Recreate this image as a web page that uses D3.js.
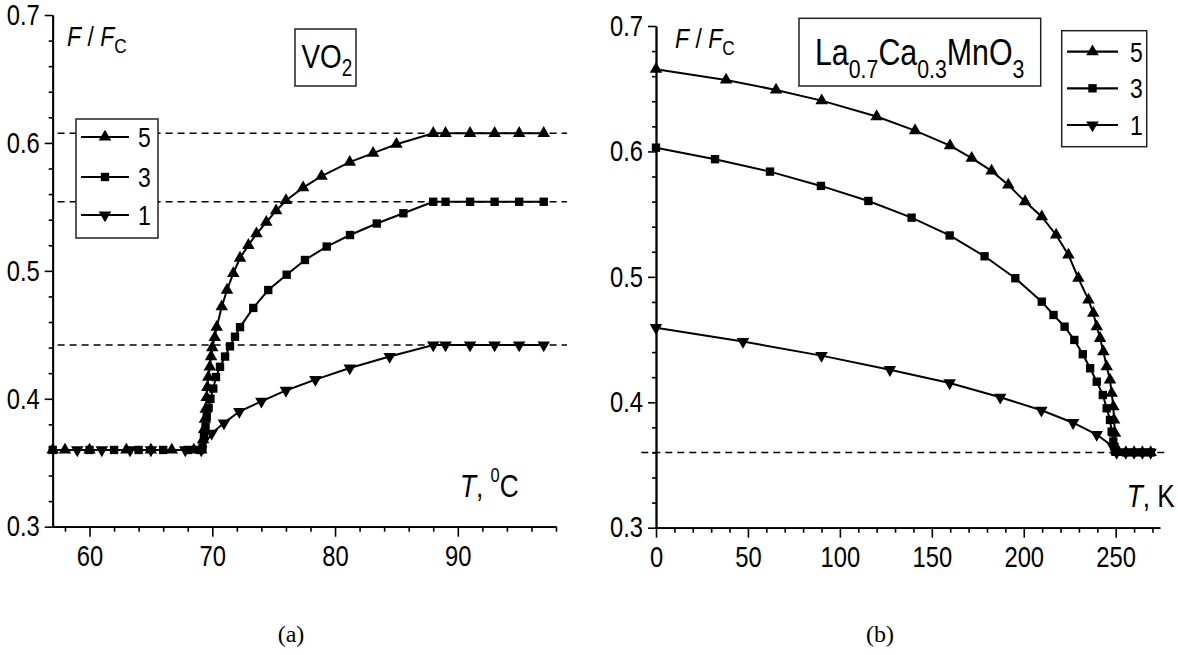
<!DOCTYPE html>
<html><head><meta charset="utf-8">
<script src="https://cdn.jsdelivr.net/npm/d3@7"></script>
<style>
body{margin:0;background:#fff;}
svg{display:block;}
text{font-family:"Liberation Sans",Arial,sans-serif;fill:#000;}
text.cap{font-family:"Liberation Serif","DejaVu Serif",serif;}
</style></head><body>
<svg id="c" width="1178" height="655"></svg>
<script>
// ---------- data: panel (a) VO2 ----------
const vo2Series5 = [[57,0.36],[58,0.36],[60,0.36],[63,0.36],[65,0.36],[66.7,0.36],[68.5,0.36],[69.1,0.36],[69.25,0.368],[69.33,0.376],[69.4,0.384],[69.47,0.392],[69.54,0.401],[69.6,0.409],[69.68,0.417],[69.8,0.425],[69.9,0.433],[70.0,0.44],[70.2,0.448],[70.36,0.456],[70.77,0.472],[71.2,0.485],[71.71,0.498],[72.26,0.51],[72.94,0.52],[73.6,0.529],[74.4,0.538],[75.2,0.547],[76.0,0.555],[77.4,0.565],[78.9,0.574],[81.2,0.585],[83.1,0.592],[85.0,0.599],[88,0.6075],[89,0.6075],[91,0.6075],[93,0.6075],[95,0.6075],[97,0.6075]];
const vo2Series3 = [[57,0.36],[60,0.36],[62,0.36],[64,0.36],[66,0.36],[68,0.36],[69,0.36],[69.2,0.362],[69.32,0.370],[69.45,0.378],[69.55,0.386],[69.7,0.393],[69.85,0.400],[70.08,0.408],[70.3,0.417],[70.63,0.425],[71.04,0.433],[71.44,0.441],[71.85,0.4485],[72.26,0.456],[73.34,0.471],[74.56,0.485],[76.06,0.497],[77.55,0.5085],[79.32,0.519],[81.22,0.528],[83.4,0.537],[85.57,0.545],[88,0.554],[89,0.554],[91,0.554],[93,0.554],[95,0.554],[97,0.554]];
const vo2Series1 = [[59,0.36],[61,0.36],[63.3,0.36],[65,0.36],[67.8,0.36],[69.1,0.36],[69.95,0.373],[70.95,0.381],[72.2,0.39],[74.0,0.398],[76.0,0.4065],[78.4,0.415],[81.2,0.424],[84.45,0.433],[88,0.442],[89,0.442],[91,0.442],[93,0.442],[95,0.442],[97,0.442]];
const vo2Limits = [0.6075, 0.554, 0.442];
const vo2DashX = [57.4, 98.9];
const vo2XDomain = [57, 98];
const vo2XMajor = [60, 70, 80, 90];
const vo2XMinor = [58,62,64,66,68,72,74,76,78,82,84,86,88,92,94,96,98];

// ---------- data: panel (b) La0.7Ca0.3MnO3 ----------
const lcmSeries5 = [[0,0.6656],[38.1,0.657],[65.3,0.649],[90.1,0.6405],[120,0.6278],[140.9,0.6166],[159.9,0.6046],[171.7,0.5946],[182.5,0.5845],[191.6,0.5733],[200.7,0.56],[209.8,0.548],[217.6,0.5334],[224.3,0.5175],[229.7,0.4989],[235.2,0.4816],[237.8,0.471],[239.7,0.4603],[241.5,0.451],[243.3,0.4403],[245.1,0.4284],[246.9,0.4178],[247.8,0.4072],[248.7,0.3965],[249.1,0.3859],[249.6,0.3753],[250,0.3646],[251,0.36],[255.5,0.36],[260,0.36],[264.5,0.36],[269,0.36]];
const lcmSeries3 = [[0,0.603],[32.1,0.5938],[62,0.5839],[89.7,0.5725],[115.5,0.5605],[139,0.5472],[159.7,0.533],[178.7,0.5164],[195.4,0.4989],[209.8,0.4802],[216.2,0.4696],[222.2,0.4603],[227.5,0.4497],[232.1,0.4383],[236.1,0.4271],[239.7,0.4164],[243,0.4058],[245.1,0.3952],[246.9,0.3859],[247.8,0.3766],[248.7,0.3686],[249.6,0.361],[255.5,0.36],[260,0.36],[264.5,0.36],[269,0.36]];
const lcmSeries1 = [[0,0.4595],[47.3,0.4484],[90,0.4372],[127.2,0.426],[159.7,0.4154],[187.2,0.404],[209.6,0.3936],[226.8,0.3837],[239.7,0.3743],[248.5,0.3646],[250.5,0.36],[255.5,0.36],[260,0.36],[264.5,0.36],[269,0.36]];
const lcmLimits = [0.36];
const lcmDashX = [-8, 276.5];
const lcmXDomain = [0, 274];
const lcmXMajor = [0, 50, 100, 150, 200, 250];
const lcmXMinor = [10,20,30,40,60,70,80,90,110,120,130,140,160,170,180,190,210,220,230,240,260,270];

const yDomain = [0.3, 0.7];
const yMajor = [0.3, 0.4, 0.5, 0.6, 0.7];
const yMinor = [0.32,0.34,0.36,0.38,0.42,0.44,0.46,0.48,0.52,0.54,0.56,0.58,0.62,0.64,0.66,0.68];
const legendLabels = ["5", "3", "1"];

// ---------- drawing ----------
const svg = d3.select("#c");
const K = 0.82; // horizontal squeeze to imitate a narrow sans face

function squeeze(sel) {
  sel.each(function () {
    const t = d3.select(this);
    const x = +t.attr("x") || 0, y = +t.attr("y") || 0;
    t.attr("x", 0).attr("y", 0).attr("transform", `translate(${x},${y}) scale(${K},1)`);
  });
}

const symTri = d3.symbol().type(d3.symbolTriangle).size(68)();
const symSq = d3.symbol().type(d3.symbolSquare).size(70)();
const markers = [
  {path: symTri, rot: 0},
  {path: symSq, rot: 0},
  {path: symTri, rot: 180}
];

function panel(cfg) {
  const x = d3.scaleLinear().domain(cfg.xDomain).range(cfg.xRange);
  const y = d3.scaleLinear().domain(yDomain).range(cfg.yRange);
  const g = svg.append("g");

  // dashed limit lines
  g.selectAll("line.lim").data(cfg.limits).join("line")
    .attr("x1", x(cfg.dashX[0])).attr("x2", x(cfg.dashX[1]))
    .attr("y1", d => y(d)).attr("y2", d => y(d))
    .attr("stroke", "#000").attr("stroke-width", 1.5).attr("stroke-dasharray", "7,5");

  // axes
  const axStyle = sel => {
    sel.selectAll("path.domain").attr("stroke", "#000").attr("stroke-width", 1.8);
    sel.selectAll(".tick line").attr("stroke", "#000").attr("stroke-width", 1.6);
    sel.selectAll(".tick text").style("font-size", "29px").attr("fill", "#000").call(squeeze);
  };
  g.append("g").attr("transform", `translate(${cfg.xRange[0]},0)`)
    .call(d3.axisLeft(y).tickValues(yMinor).tickSize(4).tickSizeOuter(0).tickFormat(""))
    .call(axStyle);
  g.append("g").attr("transform", `translate(${cfg.xRange[0]},0)`)
    .call(d3.axisLeft(y).tickValues(yMajor).tickSize(8).tickSizeOuter(0).tickPadding(5).tickFormat(d3.format(".1f")))
    .call(axStyle);
  g.append("g").attr("transform", `translate(0,${cfg.yRange[0]})`)
    .call(d3.axisBottom(x).tickValues(cfg.xMinor).tickSize(5).tickSizeOuter(0).tickFormat(""))
    .call(axStyle);
  g.append("g").attr("transform", `translate(0,${cfg.yRange[0]})`)
    .call(d3.axisBottom(x).tickValues(cfg.xMajor).tickSize(10).tickSizeOuter(0).tickPadding(9).tickFormat(d3.format("d")))
    .call(axStyle);

  // series
  const line = d3.line().x(d => x(d[0])).y(d => y(d[1]));
  cfg.series.forEach((s, i) => {
    g.append("path").datum(s).attr("d", line)
      .attr("fill", "none").attr("stroke", "#000").attr("stroke-width", 2);
    g.selectAll(null).data(s).join("path")
      .attr("d", markers[i].path)
      .attr("transform", d => `translate(${x(d[0])},${y(d[1])}) rotate(${markers[i].rot})`)
      .attr("fill", "#000");
  });

  // legend
  const L = cfg.legend;
  g.append("rect").attr("x", L.x).attr("y", L.y).attr("width", L.w).attr("height", L.h)
    .attr("fill", "#fff").attr("stroke", "#222").attr("stroke-width", 1.5);
  legendLabels.forEach((lab, i) => {
    const ry = L.rows[i];
    g.append("line").attr("x1", L.lx1).attr("x2", L.lx2).attr("y1", ry).attr("y2", ry)
      .attr("stroke", "#000").attr("stroke-width", 2.2);
    g.append("path").attr("d", markers[i].path)
      .attr("transform", `translate(${(L.lx1 + L.lx2) / 2},${ry}) rotate(${markers[i].rot})`)
      .attr("fill", "#000");
    g.append("text").attr("x", L.tx).attr("y", ry + 10).style("font-size", "28px").text(lab).call(squeeze);
  });
  return g;
}

panel({
  xDomain: vo2XDomain, xRange: [52.7, 556], yRange: [526.7, 15],
  xMajor: vo2XMajor, xMinor: vo2XMinor,
  series: [vo2Series5, vo2Series3, vo2Series1],
  limits: vo2Limits, dashX: vo2DashX,
  legend: {x: 76, y: 119, w: 82, h: 119, lx1: 81, lx2: 129, tx: 138, rows: [137, 177, 215]}
});
panel({
  xDomain: lcmXDomain, xRange: [656, 656 + 274 * 1.8388], yRange: [527.7, 26],
  xMajor: lcmXMajor, xMinor: lcmXMinor,
  series: [lcmSeries5, lcmSeries3, lcmSeries1],
  limits: lcmLimits, dashX: lcmDashX,
  legend: {x: 1061.7, y: 30.7, w: 85, h: 116, lx1: 1067, lx2: 1118, tx: 1130, rows: [51.7, 88.3, 125]}
});

// y-axis titles F / F_C
function fLabel(x0, y0) {
  const t = svg.append("text").attr("x", x0).attr("y", y0).style("font-size", "28px");
  t.append("tspan").style("font-style", "italic").text("F");
  t.append("tspan").text(" / ");
  t.append("tspan").style("font-style", "italic").text("F");
  t.append("tspan").attr("dy", 7).style("font-size", "21px").text("C");
  t.call(squeeze);
}
fLabel(67, 46);
fLabel(675, 48);

// x-axis titles
const tA = svg.append("text").attr("x", 460).attr("y", 497).style("font-size", "32px");
tA.append("tspan").style("font-style", "italic").text("T");
tA.append("tspan").text(", ");
tA.append("tspan").attr("dy", -15).style("font-size", "20px").text("0");
tA.append("tspan").attr("dy", 15).text("C");
tA.call(squeeze);
const tB = svg.append("text").attr("x", 1126.7).attr("y", 507).style("font-size", "32px");
tB.append("tspan").style("font-style", "italic").text("T");
tB.append("tspan").text(", K");
tB.call(squeeze);

// material boxes
svg.append("rect").attr("x", 295).attr("y", 29).attr("width", 61).attr("height", 57)
  .attr("fill", "#fff").attr("stroke", "#222").attr("stroke-width", 1.5);
const v = svg.append("text").attr("x", 301.5).attr("y", 68.3).style("font-size", "34px");
v.append("tspan").text("VO");
v.append("tspan").attr("dy", 8).style("font-size", "23px").text("2");
v.call(squeeze);

svg.append("rect").attr("x", 799).attr("y", 18.3).attr("width", 241.7).attr("height", 67.7)
  .attr("fill", "#fff").attr("stroke", "#222").attr("stroke-width", 1.5);
const m = svg.append("text").attr("x", 815).attr("y", 65).style("font-size", "37px");
m.append("tspan").text("La");
m.append("tspan").attr("dy", 13).style("font-size", "26px").text("0.7");
m.append("tspan").attr("dy", -13).text("Ca");
m.append("tspan").attr("dy", 13).style("font-size", "26px").text("0.3");
m.append("tspan").attr("dy", -13).text("MnO");
m.append("tspan").attr("dy", 13).style("font-size", "26px").text("3");
m.call(squeeze);

// captions
svg.append("text").attr("class", "cap").attr("x", 291).attr("y", 642).attr("text-anchor", "middle").style("font-size", "24px").text("(a)");
svg.append("text").attr("class", "cap").attr("x", 880).attr("y", 642).attr("text-anchor", "middle").style("font-size", "24px").text("(b)");
</script>
</body></html>
